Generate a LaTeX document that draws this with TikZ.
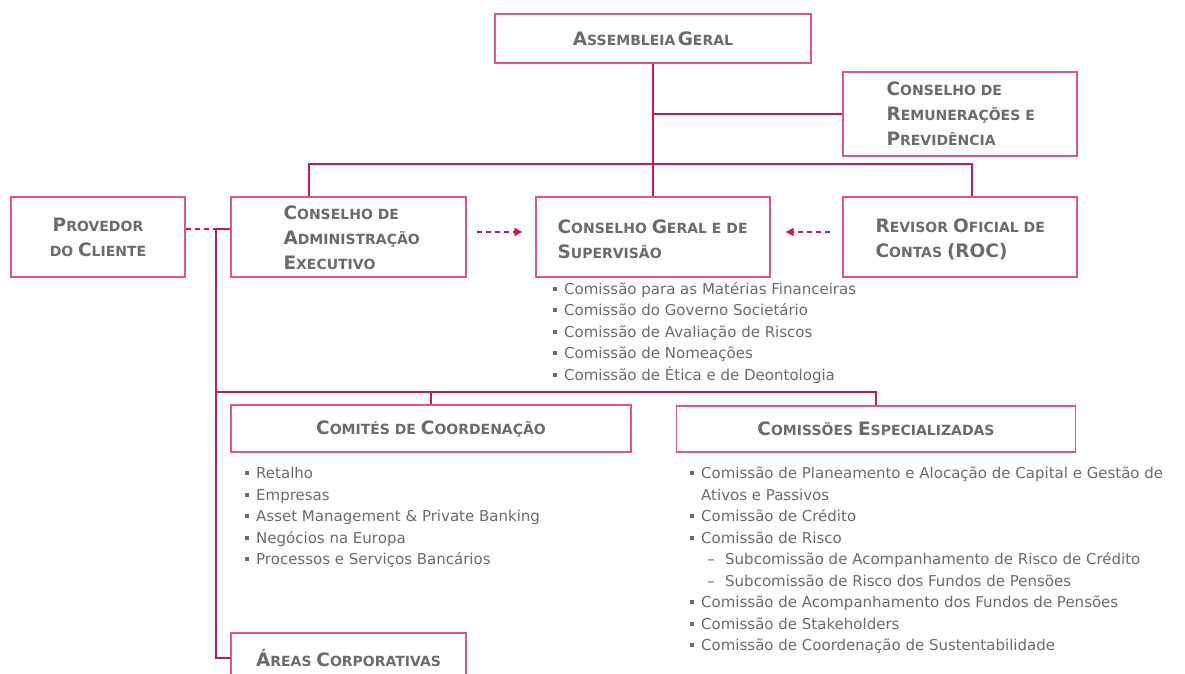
\documentclass[tikz,border=0pt]{standalone}
\usepackage{fontspec}
\setmainfont{DejaVu Sans}
\usetikzlibrary{arrows.meta,positioning}

\definecolor{linkpink}{HTML}{C8175E}
\definecolor{boxpink}{HTML}{D9558C}
\definecolor{txtgray}{HTML}{6B6B6E}

% first letter of a word in the small caps headings
\newcommand\capw[1]{{\fontsize{18.5}{20}\selectfont #1}}
% square bullet of the lists
\newcommand\blt{\makebox[11pt][l]{\rule[3.5pt]{4pt}{4pt}}}

\begin{document}
\begin{tikzpicture}[
  x=1pt, y=-1pt,
  box/.style={draw=boxpink, line width=1.3pt, fill=white, inner sep=0, align=center},
  head/.style={text=txtgray, font=\fontsize{14}{25}\selectfont\bfseries, inner sep=0, align=left},
  list/.style={text=txtgray, font=\fontsize{15}{21.5}\selectfont, inner sep=0, align=left, anchor=north west},
  link/.style={draw=linkpink, line width=1.8pt},
  dlink/.style={link, line width=1.3pt, dash pattern=on 5pt off 4pt, -{Triangle[length=8pt, width=8pt]}}
]
\useasboundingbox (0,0) rectangle (1185,673);
\clip (0,0) rectangle (1185,673);

% Boxes
\node[box, head, align=center, minimum width=316, minimum height=49] (ag) at (653,38.5) {\capw{A}SSEMBLEIA\,\capw{G}ERAL};
\node[box, minimum width=234, minimum height=84] (crp) at (960,114) {};
\node[head, anchor=west] (crptxt) at ([xshift=44pt]crp.west) {\capw{C}ONSELHO DE\\\capw{R}EMUNERAÇÕES E\\\capw{P}REVIDÊNCIA};

\node[box, head, align=center, minimum width=174, minimum height=80] (prov) at (98,237) {\capw{P}ROVEDOR\\DO \capw{C}LIENTE};
\node[box, minimum width=235, minimum height=80] (cae) at (348.5,237) {};
\node[head, anchor=west] (caetxt) at ([xshift=53pt,yshift=-1pt]cae.west) {\capw{C}ONSELHO DE\\\capw{A}DMINISTRAÇÃO\\\capw{E}XECUTIVO};
\node[box, minimum width=234, minimum height=80] (cgs) at (653,237) {};
\node[head, anchor=west] (cgstxt) at ([xshift=22pt,yshift=-2.5pt]cgs.west) {\capw{C}ONSELHO \capw{G}ERAL E DE\\\capw{S}UPERVISÃO};
\node[box, minimum width=234, minimum height=80] (roc) at (960,237) {};
\node[head, anchor=west] (roctxt) at ([xshift=33pt,yshift=-2.5pt]roc.west) {\capw{R}EVISOR \capw{O}FICIAL DE\\\capw{C}ONTAS \capw{(ROC)}};

\node[box, head, align=center, minimum width=400, minimum height=47] (comites) at (431,428.5) {\capw{C}OMITÉS DE \capw{C}OORDENAÇÃO};
\node[box, head, align=center, minimum width=399, minimum height=46] (comissoes) at (876,429) {\capw{C}OMISSÕES \capw{E}SPECIALIZADAS};
\node[box, head, align=center, minimum width=235, minimum height=50] (areas) at (348.5,658) {\capw{Á}REAS \capw{C}ORPORATIVAS};

% Lists
\node[list] (cgslist) at (553,282) {\blt Comissão para as Matérias Financeiras\\
  \blt Comissão do Governo Societário\\
  \blt Comissão de Avaliação de Riscos\\
  \blt Comissão de Nomeações\\
  \blt Comissão de Ética e de Deontologia};
\node[list] (comiteslist) at (245,467) {\blt Retalho\\
  \blt Empresas\\
  \blt Asset Management \& Private Banking\\
  \blt Negócios na Europa\\
  \blt Processos e Serviços Bancários};
\node[list] (comissoeslist) at (690,467) {\blt Comissão de Planeamento e Alocação de Capital e Gestão de\\
  \hspace*{11pt}Ativos e Passivos\\
  \blt Comissão de Crédito\\
  \blt Comissão de Risco\\
  \hspace*{17pt}\makebox[18pt][l]{–}Subcomissão de Acompanhamento de Risco de Crédito\\
  \hspace*{17pt}\makebox[18pt][l]{–}Subcomissão de Risco dos Fundos de Pensões\\
  \blt Comissão de Acompanhamento dos Fundos de Pensões\\
  \blt Comissão de Stakeholders\\
  \blt Comissão de Coordenação de Sustentabilidade};

% Connectors
\coordinate (busl) at (309,164);
\coordinate (busr) at (972,164);
\coordinate (jl) at (216,229);
\coordinate (bus2) at (216,392);
\draw[link] (ag.south) -- (cgs.north);
\draw[link] (crp.west) -- (crp.west -| ag.south);
\draw[link] (busl |- cae.north) -- (busl) -- (busr) -- (busr |- roc.north);
\draw[link, line width=1.3pt, dash pattern=on 5pt off 4pt] (prov.east |- jl) -- (jl);
\draw[link] (cae.west |- jl) -- (jl) -- (jl |- areas.west) -- (areas.west);
\draw[link] (bus2) -| (comites.north);
\draw[link] (bus2) -| (comissoes.north);
\draw[dlink] ([xshift=10pt,yshift=5pt]cae.east) -- ([xshift=-13pt,yshift=5pt]cgs.west);
\draw[dlink] ([xshift=-12pt,yshift=5pt]roc.west) -- ([xshift=15pt,yshift=5pt]cgs.east);
\end{tikzpicture}
\end{document}
